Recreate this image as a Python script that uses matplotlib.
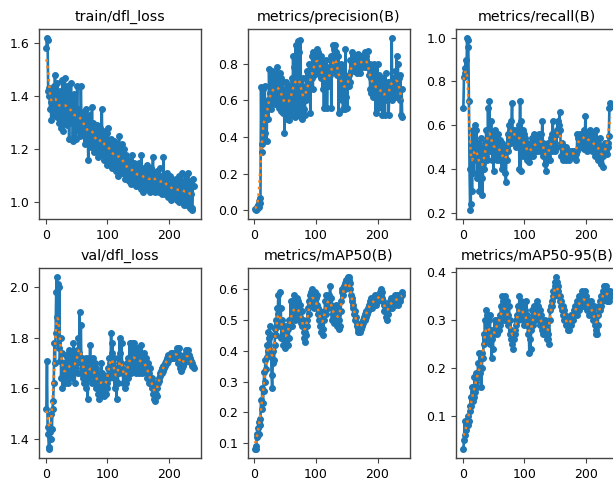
import numpy as np
import matplotlib
matplotlib.use('Agg')
from matplotlib import pyplot as plt
from matplotlib.ticker import MaxNLocator


epochs = np.arange(1, 241)

train_dfl_loss = [
    1.58, 1.62, 1.61, 1.42, 1.40, 1.43, 1.35, 1.38, 1.31, 1.42,
    1.36, 1.33, 1.44, 1.38, 1.48, 1.35, 1.40, 1.32, 1.45, 1.36,
    1.30, 1.38, 1.42, 1.28, 1.40, 1.34, 1.46, 1.27, 1.38, 1.32,
    1.47, 1.30, 1.36, 1.44, 1.29, 1.42, 1.33, 1.24, 1.40, 1.35,
    1.45, 1.30, 1.37, 1.23, 1.34, 1.41, 1.28, 1.36, 1.24, 1.33,
    1.44, 1.29, 1.35, 1.27, 1.32, 1.25, 1.44, 1.30, 1.26, 1.34,
    1.28, 1.33, 1.22, 1.31, 1.27, 1.35, 1.24, 1.30, 1.16, 1.28,
    1.33, 1.25, 1.29, 1.21, 1.36, 1.24, 1.30, 1.19, 1.27, 1.23,
    1.26, 1.20, 1.29, 1.22, 1.17, 1.25, 1.20, 1.28, 1.18, 1.23,
    1.35, 1.20, 1.25, 1.16, 1.22, 1.27, 1.18, 1.21, 1.14, 1.26,
    1.28, 1.17, 1.22, 1.15, 1.20, 1.24, 1.13, 1.19, 1.21, 1.14,
    1.23, 1.16, 1.20, 1.12, 1.18, 1.22, 1.10, 1.17, 1.25, 1.13,
    1.19, 1.15, 1.22, 1.11, 1.17, 1.14, 1.20, 1.09, 1.16, 1.12,
    1.18, 1.10, 1.15, 1.13, 1.08, 1.16, 1.11, 1.14, 1.07, 1.18,
    1.12, 1.09, 1.15, 1.10, 1.13, 1.06, 1.14, 1.09, 1.12, 1.07,
    1.15, 1.08, 1.11, 1.05, 1.18, 1.09, 1.12, 1.04, 1.10, 1.13,
    1.06, 1.11, 1.08, 1.14, 1.05, 1.10, 1.07, 1.12, 1.04, 1.09,
    1.13, 1.06, 1.10, 1.17, 1.05, 1.09, 1.11, 1.04, 1.08, 1.12,
    1.06, 1.10, 1.04, 1.09, 1.13, 1.05, 1.08, 1.03, 1.10, 1.06,
    1.17, 1.05, 1.09, 1.03, 1.07, 1.11, 1.04, 1.08, 1.02, 1.06,
    1.10, 1.04, 1.07, 1.01, 1.09, 1.05, 1.03, 1.08, 1.02, 1.06,
    1.04, 1.09, 1.01, 1.06, 1.03, 1.10, 1.00, 1.05, 1.02, 1.07,
    1.11, 1.00, 1.04, 1.08, 0.99, 1.05, 1.02, 1.10, 0.99, 1.04,
    1.11, 1.01, 1.06, 0.98, 1.03, 1.08, 0.98, 0.97, 1.09, 1.06,
]

precision = [
    0.01, 0.00, 0.01, 0.02, 0.01, 0.03, 0.02, 0.05, 0.04, 0.07,
    0.67, 0.32, 0.36, 0.66, 0.40, 0.46, 0.68, 0.42, 0.52, 0.38,
    0.56, 0.60, 0.50, 0.77, 0.58, 0.64, 0.55, 0.76, 0.60, 0.68,
    0.63, 0.72, 0.58, 0.74, 0.66, 0.60, 0.78, 0.62, 0.72, 0.56,
    0.75, 0.66, 0.54, 0.72, 0.60, 0.70, 0.53, 0.64, 0.42, 0.66,
    0.56, 0.70, 0.50, 0.62, 0.55, 0.66, 0.49, 0.68, 0.60, 0.52,
    0.72, 0.55, 0.84, 0.60, 0.78, 0.51, 0.90, 0.62, 0.80, 0.52,
    0.92, 0.60, 0.86, 0.54, 0.93, 0.51, 0.68, 0.50, 0.72, 0.55,
    0.66, 0.52, 0.64, 0.60, 0.76, 0.62, 0.72, 0.66, 0.80, 0.70,
    0.53, 0.76, 0.72, 0.84, 0.66, 0.86, 0.74, 0.82, 0.78, 0.85,
    0.80, 0.88, 0.76, 0.86, 0.80, 0.82, 0.74, 0.84, 0.72, 0.78,
    0.66, 0.80, 0.56, 0.78, 0.70, 0.74, 0.82, 0.56, 0.72, 0.76,
    0.68, 0.78, 0.74, 0.84, 0.56, 0.80, 0.78, 0.90, 0.76, 0.88,
    0.90, 0.82, 0.86, 0.74, 0.80, 0.84, 0.53, 0.76, 0.70, 0.80,
    0.74, 0.60, 0.78, 0.55, 0.72, 0.66, 0.55, 0.88, 0.62, 0.70,
    0.56, 0.72, 0.68, 0.74, 0.70, 0.82, 0.76, 0.86, 0.78, 0.80,
    0.80, 0.76, 0.84, 0.78, 0.82, 0.75, 0.80, 0.85, 0.77, 0.82,
    0.75, 0.84, 0.80, 0.82, 0.78, 0.84, 0.80, 0.82, 0.86, 0.78,
    0.82, 0.84, 0.78, 0.87, 0.80, 0.74, 0.80, 0.66, 0.72, 0.64,
    0.78, 0.62, 0.72, 0.66, 0.80, 0.68, 0.53, 0.72, 0.60, 0.80,
    0.56, 0.70, 0.74, 0.64, 0.70, 0.58, 0.64, 0.52, 0.72, 0.60,
    0.66, 0.52, 0.75, 0.62, 0.68, 0.60, 0.70, 0.52, 0.64, 0.70,
    0.62, 0.66, 0.94, 0.60, 0.72, 0.64, 0.70, 0.66, 0.76, 0.62,
    0.84, 0.66, 0.80, 0.62, 0.72, 0.60, 0.74, 0.52, 0.66, 0.51,
]

recall = [
    0.68, 0.82, 0.84, 0.86, 0.90, 0.84, 1.00, 0.99, 0.96, 0.71,
    0.40, 0.21, 0.24, 0.50, 0.30, 0.58, 0.38, 0.55, 0.44, 0.60,
    0.46, 0.58, 0.36, 0.52, 0.44, 0.47, 0.30, 0.40, 0.54, 0.46,
    0.36, 0.28, 0.42, 0.50, 0.40, 0.52, 0.46, 0.58, 0.44, 0.50,
    0.68, 0.52, 0.71, 0.56, 0.48, 0.62, 0.52, 0.44, 0.56, 0.39,
    0.54, 0.48, 0.58, 0.46, 0.52, 0.44, 0.56, 0.50, 0.47, 0.53,
    0.44, 0.50, 0.40, 0.52, 0.46, 0.42, 0.50, 0.38, 0.44, 0.34,
    0.50, 0.44, 0.56, 0.48, 0.60, 0.54, 0.58, 0.52, 0.62, 0.70,
    0.56, 0.54, 0.58, 0.52, 0.56, 0.54, 0.50, 0.58, 0.52, 0.56,
    0.60, 0.40, 0.71, 0.39, 0.62, 0.50, 0.58, 0.46, 0.56, 0.52,
    0.54, 0.48, 0.50, 0.44, 0.52, 0.46, 0.48, 0.43, 0.50, 0.46,
    0.52, 0.48, 0.54, 0.46, 0.50, 0.56, 0.48, 0.52, 0.50, 0.54,
    0.48, 0.52, 0.56, 0.50, 0.54, 0.48, 0.56, 0.50, 0.62, 0.52,
    0.46, 0.50, 0.42, 0.48, 0.39, 0.44, 0.50, 0.46, 0.52, 0.48,
    0.44, 0.50, 0.54, 0.48, 0.56, 0.62, 0.50, 0.54, 0.48, 0.52,
    0.56, 0.50, 0.58, 0.62, 0.56, 0.60, 0.66, 0.58, 0.50, 0.46,
    0.52, 0.48, 0.44, 0.50, 0.46, 0.48, 0.44, 0.50, 0.47, 0.45,
    0.48, 0.44, 0.47, 0.46, 0.48, 0.47, 0.46, 0.48, 0.47, 0.47,
    0.48, 0.46, 0.44, 0.47, 0.48, 0.56, 0.54, 0.52, 0.55, 0.53,
    0.56, 0.50, 0.54, 0.52, 0.55, 0.49, 0.58, 0.54, 0.64, 0.52,
    0.56, 0.48, 0.54, 0.50, 0.56, 0.52, 0.58, 0.50, 0.55, 0.48,
    0.54, 0.50, 0.56, 0.46, 0.52, 0.48, 0.58, 0.50, 0.44, 0.52,
    0.48, 0.54, 0.44, 0.50, 0.42, 0.48, 0.41, 0.46, 0.50, 0.47,
    0.52, 0.48, 0.50, 0.47, 0.52, 0.50, 0.55, 0.68, 0.70, 0.69,
]

val_dfl_loss = [
    1.52, 1.71, 1.45, 1.42, 1.37, 1.36, 1.43, 1.40, 1.50, 1.44,
    1.52, 1.55, 1.62, 1.78, 1.70, 1.82, 1.98, 2.04, 1.88, 2.01,
    1.76, 2.00, 1.71, 1.80, 1.64, 1.74, 1.60, 1.68, 1.63, 1.70,
    1.62, 1.67, 1.73, 1.64, 1.70, 1.62, 1.68, 1.75, 1.65, 1.72,
    1.66, 1.74, 1.64, 1.70, 1.78, 1.66, 1.62, 1.72, 1.68, 1.75,
    1.70, 1.66, 1.80, 1.74, 1.90, 1.72, 1.85, 1.66, 1.72, 1.64,
    1.70, 1.62, 1.68, 1.66, 1.72, 1.60, 1.70, 1.56, 1.64, 1.72,
    1.66, 1.77, 1.64, 1.70, 1.62, 1.69, 1.72, 1.64, 1.66, 1.70,
    1.60, 1.68, 1.64, 1.58, 1.66, 1.62, 1.56, 1.64, 1.60, 1.70,
    1.58, 1.66, 1.62, 1.57, 1.64, 1.60, 1.58, 1.65, 1.62, 1.60,
    1.68, 1.64, 1.72, 1.70, 1.66, 1.82, 1.74, 1.78, 1.70, 1.64,
    1.72, 1.60, 1.68, 1.63, 1.56, 1.66, 1.62, 1.72, 1.66, 1.80,
    1.74, 1.70, 1.78, 1.68, 1.66, 1.62, 1.66, 1.60, 1.64, 1.62,
    1.66, 1.70, 1.64, 1.72, 1.68, 1.78, 1.70, 1.74, 1.66, 1.78,
    1.72, 1.68, 1.78, 1.70, 1.74, 1.66, 1.76, 1.72, 1.68, 1.76,
    1.70, 1.66, 1.74, 1.68, 1.77, 1.70, 1.66, 1.72, 1.68, 1.74,
    1.70, 1.66, 1.72, 1.68, 1.64, 1.70, 1.66, 1.62, 1.68, 1.64,
    1.62, 1.60, 1.64, 1.58, 1.62, 1.56, 1.60, 1.55, 1.58, 1.57,
    1.60, 1.62, 1.64, 1.63, 1.66, 1.65, 1.67, 1.66, 1.68, 1.67,
    1.69, 1.68, 1.70, 1.69, 1.71, 1.70, 1.72, 1.71, 1.73, 1.72,
    1.73, 1.72, 1.74, 1.73, 1.72, 1.74, 1.73, 1.72, 1.74, 1.73,
    1.74, 1.73, 1.76, 1.74, 1.70, 1.76, 1.72, 1.68, 1.67, 1.70,
    1.68, 1.69, 1.71, 1.70, 1.73, 1.72, 1.75, 1.71, 1.74, 1.72,
    1.75, 1.73, 1.71, 1.72, 1.70, 1.71, 1.69, 1.70, 1.69, 1.68,
]

map50 = [
    0.08, 0.09, 0.08, 0.13, 0.12, 0.15, 0.17, 0.13, 0.16, 0.18,
    0.24, 0.21, 0.28, 0.23, 0.27, 0.33, 0.30, 0.37, 0.34, 0.38,
    0.42, 0.40, 0.46, 0.44, 0.48, 0.39, 0.45, 0.32, 0.28, 0.36,
    0.40, 0.37, 0.42, 0.47, 0.50, 0.45, 0.54, 0.52, 0.58, 0.50,
    0.59, 0.48, 0.54, 0.44, 0.50, 0.46, 0.42, 0.48, 0.44, 0.41,
    0.46, 0.43, 0.48, 0.42, 0.47, 0.44, 0.50, 0.48, 0.56, 0.50,
    0.54, 0.48, 0.56, 0.52, 0.58, 0.50, 0.55, 0.53, 0.57, 0.52,
    0.56, 0.50, 0.54, 0.51, 0.55, 0.49, 0.53, 0.48, 0.50, 0.46,
    0.44, 0.43, 0.46, 0.45, 0.48, 0.50, 0.54, 0.52, 0.56, 0.58,
    0.55, 0.59, 0.57, 0.60, 0.56, 0.58, 0.54, 0.59, 0.56, 0.57,
    0.55, 0.58, 0.52, 0.54, 0.50, 0.53, 0.48, 0.52, 0.46, 0.50,
    0.47, 0.45, 0.50, 0.53, 0.56, 0.52, 0.58, 0.55, 0.57, 0.54,
    0.58, 0.56, 0.61, 0.55, 0.57, 0.50, 0.54, 0.52, 0.49, 0.53,
    0.50, 0.55, 0.52, 0.54, 0.48, 0.52, 0.47, 0.50, 0.48, 0.53,
    0.56, 0.59, 0.60, 0.58, 0.61, 0.60, 0.62, 0.60, 0.63, 0.61,
    0.62, 0.64, 0.63, 0.64, 0.62, 0.60, 0.58, 0.56, 0.57, 0.54,
    0.55, 0.52, 0.53, 0.50, 0.51, 0.48, 0.49, 0.47, 0.46, 0.47,
    0.46, 0.48, 0.47, 0.49, 0.48, 0.50, 0.49, 0.51, 0.50, 0.52,
    0.51, 0.53, 0.52, 0.54, 0.53, 0.55, 0.54, 0.56, 0.55, 0.57,
    0.54, 0.56, 0.55, 0.57, 0.56, 0.58, 0.55, 0.57, 0.56, 0.58,
    0.56, 0.58, 0.57, 0.59, 0.58, 0.60, 0.57, 0.59, 0.56, 0.55,
    0.53, 0.55, 0.51, 0.54, 0.50, 0.53, 0.52, 0.55, 0.54, 0.56,
    0.55, 0.57, 0.54, 0.56, 0.55, 0.57, 0.56, 0.58, 0.55, 0.57,
    0.56, 0.58, 0.57, 0.55, 0.58, 0.57, 0.56, 0.58, 0.59, 0.58,
]

map50_95 = [
    0.03, 0.05, 0.09, 0.06, 0.08, 0.07, 0.09, 0.08, 0.10, 0.09,
    0.12, 0.11, 0.14, 0.12, 0.16, 0.13, 0.15, 0.14, 0.18, 0.15,
    0.17, 0.19, 0.16, 0.19, 0.21, 0.18, 0.23, 0.19, 0.22, 0.16,
    0.20, 0.23, 0.22, 0.27, 0.25, 0.30, 0.26, 0.32, 0.28, 0.31,
    0.26, 0.30, 0.27, 0.31, 0.25, 0.28, 0.22, 0.26, 0.24, 0.28,
    0.27, 0.30, 0.28, 0.29, 0.27, 0.30, 0.29, 0.28, 0.30, 0.31,
    0.29, 0.33, 0.30, 0.35, 0.31, 0.34, 0.30, 0.35, 0.32, 0.33,
    0.30, 0.34, 0.31, 0.29, 0.33, 0.27, 0.30, 0.26, 0.28, 0.25,
    0.27, 0.24, 0.26, 0.28, 0.27, 0.30, 0.29, 0.31, 0.30, 0.33,
    0.32, 0.35, 0.33, 0.31, 0.34, 0.32, 0.30, 0.33, 0.31, 0.29,
    0.32, 0.30, 0.34, 0.31, 0.29, 0.27, 0.30, 0.23, 0.26, 0.24,
    0.28, 0.30, 0.32, 0.29, 0.33, 0.31, 0.30, 0.32, 0.31, 0.34,
    0.32, 0.33, 0.31, 0.30, 0.32, 0.29, 0.31, 0.28, 0.30, 0.27,
    0.29, 0.28, 0.30, 0.27, 0.29, 0.26, 0.28, 0.27, 0.26, 0.25,
    0.30, 0.32, 0.33, 0.34, 0.33, 0.35, 0.36, 0.35, 0.37, 0.38,
    0.37, 0.39, 0.38, 0.36, 0.37, 0.35, 0.34, 0.35, 0.33, 0.34,
    0.32, 0.33, 0.31, 0.32, 0.30, 0.31, 0.30, 0.29, 0.30, 0.28,
    0.29, 0.28, 0.29, 0.30, 0.29, 0.31, 0.30, 0.31, 0.30, 0.32,
    0.31, 0.33, 0.32, 0.33, 0.31, 0.34, 0.33, 0.32, 0.35, 0.33,
    0.34, 0.33, 0.36, 0.34, 0.33, 0.35, 0.34, 0.36, 0.33, 0.35,
    0.34, 0.32, 0.34, 0.33, 0.31, 0.33, 0.32, 0.34, 0.31, 0.33,
    0.32, 0.30, 0.33, 0.31, 0.29, 0.27, 0.28, 0.27, 0.29, 0.31,
    0.33, 0.32, 0.34, 0.33, 0.35, 0.34, 0.36, 0.35, 0.36, 0.37,
    0.35, 0.37, 0.36, 0.34, 0.35, 0.36, 0.34, 0.35, 0.36, 0.35,
]

titles = ['train/dfl_loss', 'metrics/precision(B)', 'metrics/recall(B)',
          'val/dfl_loss', 'metrics/mAP50(B)', 'metrics/mAP50-95(B)']
series = [train_dfl_loss, precision, recall, val_dfl_loss, map50, map50_95]


def smooth(y, sigma=3, truncate=4.0):
    # same as scipy's gaussian_filter1d with reflect padding
    y = np.asarray(y, dtype=float)
    r = int(truncate * sigma + 0.5)
    k = np.exp(-0.5 * (np.arange(-r, r + 1) / sigma) ** 2)
    k /= k.sum()
    yp = np.pad(y, r, mode='symmetric')
    return np.convolve(yp, k, mode='valid')


fig = plt.figure(figsize=(6.13, 4.83), dpi=100)

# the third column runs off the right edge of the figure
lefts = [0.0636, 0.4038, 0.7439]
bottoms = [0.5466, 0.0518]
w, h = 0.2643, 0.393

for i, (title, y) in enumerate(zip(titles, series)):
    row, col = divmod(i, 3)
    ax = fig.add_axes([lefts[col], bottoms[row], w, h])
    ax.plot(epochs, y, marker='.', color='#1f77b4', linewidth=1.9, markersize=8)
    ax.plot(epochs, smooth(y), ':', color='#ff7f0e', linewidth=1.8)
    ax.set_title(title, fontsize=10.3)
    ax.set_xticks([0, 100, 200])
    ax.yaxis.set_major_locator(MaxNLocator(nbins=7, steps=[1, 2, 2.5, 5, 10]))
    ax.tick_params(labelsize=9, color='#444', width=0.8)
    for s in ax.spines.values():
        s.set_color('#444')
        s.set_linewidth(1.0)

fig.savefig('out.png', dpi=100)
